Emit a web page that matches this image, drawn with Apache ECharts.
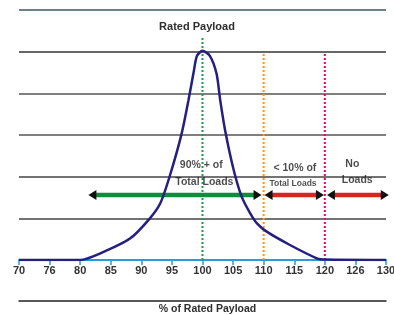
<!DOCTYPE html>
<html>
<head>
<meta charset="utf-8">
<script src="https://cdn.jsdelivr.net/npm/echarts@6/dist/echarts.min.js"></script>
<style>
  html, body { margin: 0; padding: 0; background: #fff; }
  #chart { width: 394px; height: 315px; }
</style>
</head>
<body>
<div id="chart"></div>
<script>
// tick labels of the x axis (as printed, 75 and 125 read 76 / 126)
const tickLabels = ['70', '76', '80', '85', '90', '95', '100', '105', '110', '115', '120', '126', '130']

// load distribution curve: % of rated payload -> relative frequency
const curveX = [70, 80, 83.3, 88.2, 91.4, 93.1, 94.7, 96.6, 97.7, 98.6, 99.1, 100, 101.2, 102.3, 102.9, 103.7, 105.1, 106.4, 107.8, 108.9, 110.5, 114.3, 118.7, 120.2, 130]
const curveY = [0, 0, 1.6, 5.2, 10.0, 13.6, 20.4, 30.4, 38.3, 45.5, 49.0, 50.2, 49.0, 44.7, 38.3, 31.1, 21.6, 15.2, 11.2, 8.8, 6.8, 3.6, 0.4, 0.1, 0]

// reference lines (x value, top)
const refX = [100, 110, 120]
const refTop = [53.4, 49.6, 49.6]

// range arrows
const arrowFrom = [82.0, 110.8, 121.0]
const arrowTo = [109.0, 119.2, 129.8]
const arrowLevel = 15.6

// notes
const noteText = ['90% + of', 'Total Loads', '< 10% of', 'Total Loads', 'No', 'Loads']
const noteX = [99.8, 100.3, 115.1, 114.8, 124.5, 125.3]
const noteY = [22.8, 18.8, 22.15, 18.4, 23.0, 19.2]

const chart = echarts.init(document.getElementById('chart'))

const refColors = ['#1a9c4a', '#f7941d', '#e5007d']
const arrowColors = ['#0a8f3c', '#d8261d', '#d8261d']
const noteSizes = [10.5, 10.5, 10.5, 8.5, 10.5, 10.5]

const series = []

// dotted reference lines
refX.forEach((x, i) => {
  series.push({
    type: 'line',
    data: [[x, 0], [x, refTop[i]]],
    symbol: 'none',
    silent: true,
    z: 2,
    lineStyle: { color: refColors[i], width: 2, type: [2, 2] }
  })
})

// arrows
arrowFrom.forEach((x, i) => {
  series.push({
    type: 'line',
    clip: false,
    z: 3,
    data: [
      { value: [x, arrowLevel], symbolRotate: 90 },
      { value: [arrowTo[i], arrowLevel], symbolRotate: -90 }
    ],
    symbol: 'triangle',
    symbolSize: [10, 8],
    showSymbol: true,
    itemStyle: { color: '#111' },
    lineStyle: { color: arrowColors[i], width: 4.5 }
  })
})

// curve
series.push({
  type: 'line',
  data: curveX.map((x, i) => [x, curveY[i]]),
  symbol: 'none',
  smooth: 0.25,
  z: 4,
  lineStyle: { color: '#241f80', width: 2.5 }
})

// notes
series.push({
  type: 'scatter',
  symbolSize: 0,
  z: 5,
  silent: true,
  data: noteText.map((t, i) => ({
    value: [noteX[i], noteY[i]],
    label: {
      show: true,
      position: 'inside',
      formatter: t,
      fontSize: noteSizes[i],
      fontWeight: 'bold',
      color: '#1e1e1e',
      fontFamily: 'Liberation Sans'
    }
  }))
})

const options = {
  animation: false,
  textStyle: { fontFamily: 'Liberation Sans' },
  title: {
    text: 'Rated Payload',
    left: 'center',
    top: 16,
    textStyle: { fontSize: 11, fontWeight: 'bold', color: '#2e2e2e', fontFamily: 'Liberation Sans' }
  },
  grid: { left: 19, right: 8, top: 10, bottom: 55, outerBoundsMode: 'none', containLabel: false },
  xAxis: [
    {
      type: 'value',
      min: 70,
      max: 130,
      interval: 5,
      axisLine: { show: true, lineStyle: { color: '#2a9ad8', width: 2 } },
      axisTick: { show: true, length: 5, lineStyle: { color: '#2a9ad8', width: 1.5 } },
      axisLabel: {
        margin: 5,
        fontSize: 11,
        fontWeight: 'bold',
        color: '#333',
        showMinLabel: true,
        showMaxLabel: true,
        formatter: (v) => tickLabels[Math.round((v - 70) / 5)]
      },
      splitLine: { show: false }
    },
    {
      type: 'value',
      position: 'bottom',
      offset: 41,
      min: 70,
      max: 130,
      axisLine: { show: true, lineStyle: { color: '#222', width: 1.5 } },
      axisTick: { show: false },
      axisLabel: { show: false },
      splitLine: { show: false },
      name: '% of Rated Payload',
      nameLocation: 'middle',
      nameGap: 3,
      nameTextStyle: { fontSize: 10.5, fontWeight: 'bold', color: '#2e2e2e', padding: [0, 0, 0, 10] }
    }
  ],
  yAxis: {
    type: 'value',
    min: 0,
    max: 60,
    interval: 10,
    axisLine: { show: false },
    axisTick: { show: false },
    axisLabel: { show: false },
    splitLine: {
      lineStyle: {
        color: ['#555', '#444', '#444', '#555', '#555', '#333', '#3d5660'],
        width: 1.6
      }
    }
  },
  series: series
}

chart.setOption(options)
</script>
</body>
</html>
